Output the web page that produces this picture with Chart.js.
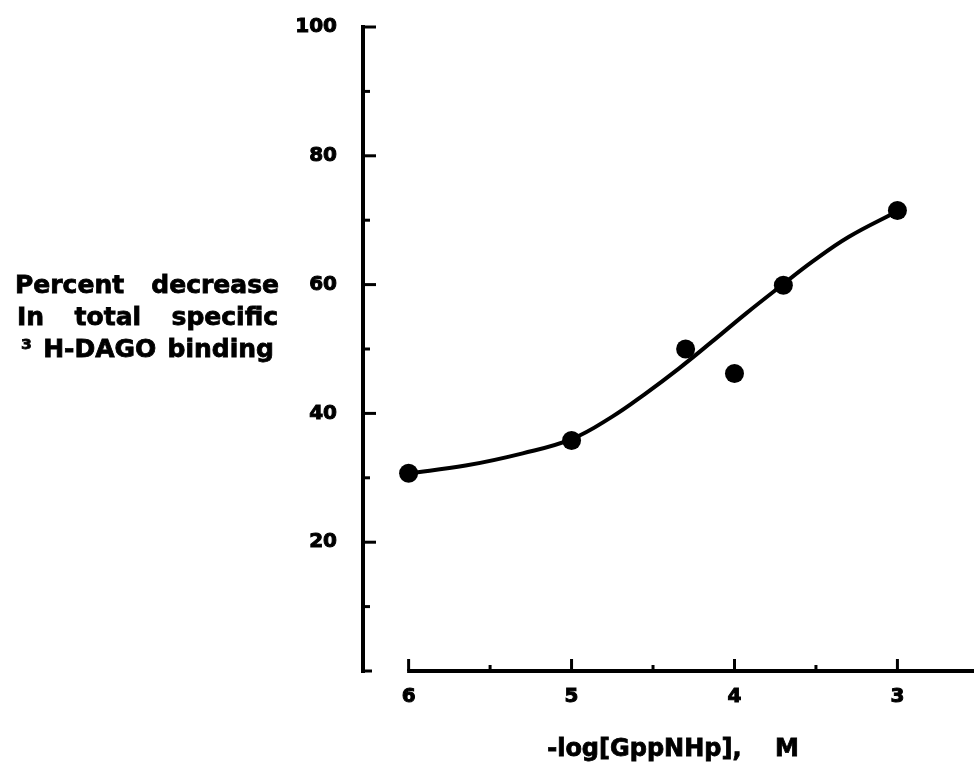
<!DOCTYPE html>
<html>
<head>
<meta charset="utf-8">
<script src="https://cdn.jsdelivr.net/npm/chart.js@4/dist/chart.umd.min.js"></script>
<style>
  html, body { margin: 0; padding: 0; background: #fff; }
  #wrap { position: relative; width: 974px; height: 765px; }
  #c { position: absolute; left: 0; top: 0; }
  .yt { position: absolute; left: 15px; width: 264px; font-family: "DejaVu Sans", sans-serif;
        font-weight: bold; font-size: 25px; line-height: 32px; color: #000;
        -webkit-text-stroke: 0.8px #000;
        text-align: justify; text-align-last: justify; white-space: nowrap; }
  #xt { position: absolute; left: 373px; width: 600px; top: 733px; line-height: 30px;
        font-family: "DejaVu Sans", sans-serif; font-weight: bold; font-size: 24px; color: #000;
        -webkit-text-stroke: 0.8px #000; text-align: center; white-space: pre; }
</style>
</head>
<body>
<div id="wrap">
  <canvas id="c" width="974" height="765"></canvas>
  <div class="yt" style="top:269px;">Percent decrease</div>
  <div class="yt" style="top:301px;left:17px;width:261px;">In total specific</div>
  <div class="yt" style="top:333px;left:21px;width:253px;">³ H-DAGO binding</div>
  <div id="xt"></div>
</div>
<script>
// ---- data ----
const pointX = [6, 5, 4.3, 4, 3.7, 3];
const pointY = [30.7, 35.8, 50.0, 46.2, 59.9, 71.5];

const curveX = [6.00, 5.65, 5.30, 5.00, 4.75, 4.55, 4.34, 4.14, 3.93, 3.73, 3.52, 3.30, 3.00];
const curveY = [30.7, 31.9, 33.8, 36.0, 39.5, 43.0, 47.0, 51.1, 55.5, 59.5, 63.6, 67.4, 71.4];

const xMajorTicks = [6, 5, 4, 3];
const xMinorTicks = [5.5, 4.5, 3.5];
const yMajorTicks = [20, 40, 60, 80, 100];
const yMinorTicks = [10, 30, 50, 70, 90];
const xTitle = '-log[GppNHp],    M';

document.getElementById('xt').textContent = xTitle;

const FONT = '"DejaVu Sans", sans-serif';

const axesPlugin = {
  id: 'inwardAxes',
  afterDatasetsDraw(chart) {
    const ctx = chart.ctx;
    const xs = chart.scales.x, ys = chart.scales.y;
    const area = chart.chartArea;
    ctx.save();
    ctx.strokeStyle = '#000';
    ctx.lineCap = 'butt';
    // y axis line
    const yAxisX = area.left;
    const y0 = ys.getPixelForValue(0);
    ctx.lineWidth = 4;
    ctx.beginPath();
    ctx.moveTo(yAxisX, ys.getPixelForValue(100) - 2);
    ctx.lineTo(yAxisX, y0 + 2);
    ctx.stroke();
    // y ticks (pointing right)
    ctx.lineWidth = 3;
    const yt = (v, len) => {
      const p = ys.getPixelForValue(v);
      ctx.beginPath(); ctx.moveTo(yAxisX, p); ctx.lineTo(yAxisX + len, p); ctx.stroke();
    };
    yMajorTicks.forEach(v => yt(v, 13));
    yMinorTicks.forEach(v => yt(v, 7));
    yt(0, 9);
    // x axis line (starting at first major tick)
    const xStart = xs.getPixelForValue(xMajorTicks[0]);
    ctx.lineWidth = 4;
    ctx.beginPath();
    ctx.moveTo(xStart - 1.5, y0);
    ctx.lineTo(area.right, y0);
    ctx.stroke();
    // x ticks (pointing up)
    ctx.lineWidth = 3;
    const xt = (v, len) => {
      const p = xs.getPixelForValue(v);
      ctx.beginPath(); ctx.moveTo(p, y0); ctx.lineTo(p, y0 - len); ctx.stroke();
    };
    xMajorTicks.forEach(v => xt(v, 12));
    xMinorTicks.forEach(v => xt(v, 6));
    ctx.restore();
  }
};

new Chart(document.getElementById('c'), {
  type: 'scatter',
  data: {
    datasets: [
      {
        label: 'fit',
        data: curveX.map((x, i) => ({ x: x, y: curveY[i] })),
        showLine: true,
        borderColor: '#000',
        borderWidth: 4,
        pointRadius: 0,
        tension: 0.4,
        fill: false,
        order: 2
      },
      {
        label: 'data',
        data: pointX.map((x, i) => ({ x: x, y: pointY[i] })),
        showLine: false,
        pointRadius: 9.5,
        pointBackgroundColor: '#000',
        pointBorderColor: '#000',
        pointBorderWidth: 0,
        order: 1
      }
    ]
  },
  options: {
    responsive: false,
    animation: false,
    devicePixelRatio: 1,
    layout: { autoPadding: false, padding: { top: 27, right: 0, bottom: 2, left: 0 } },
    plugins: { legend: { display: false }, tooltip: { enabled: false } },
    scales: {
      x: {
        type: 'linear',
        reverse: true,
        min: 2.53,
        max: 6.28,
        afterBuildTicks: (s) => { s.ticks = xMajorTicks.map(v => ({ value: v })); },
        afterFit: (s) => { s.height = 92; s.paddingLeft = 0; s.paddingRight = 0; },
        grid: { display: false, drawTicks: false },
        border: { display: false },
        ticks: {
          color: '#000',
          padding: 14,
          maxRotation: 0,
          textStrokeColor: '#000',
          textStrokeWidth: 1,
          font: { family: FONT, weight: 'bold', size: 20 },
          callback: (v) => String(v)
        },
        title: { display: false }
      },
      y: {
        type: 'linear',
        min: 0,
        max: 100,
        afterBuildTicks: (s) => { s.ticks = yMajorTicks.map(v => ({ value: v })); },
        afterFit: (s) => { s.width = 363; s.paddingTop = 0; s.paddingBottom = 0; },
        grid: { display: false, drawTicks: false },
        border: { display: false },
        ticks: {
          color: '#000',
          padding: 26,
          textStrokeColor: '#000',
          textStrokeWidth: 1,
          font: { family: FONT, weight: 'bold', size: 20 },
          callback: (v) => String(v)
        }
      }
    }
  },
  plugins: [axesPlugin]
});
</script>
</body>
</html>
